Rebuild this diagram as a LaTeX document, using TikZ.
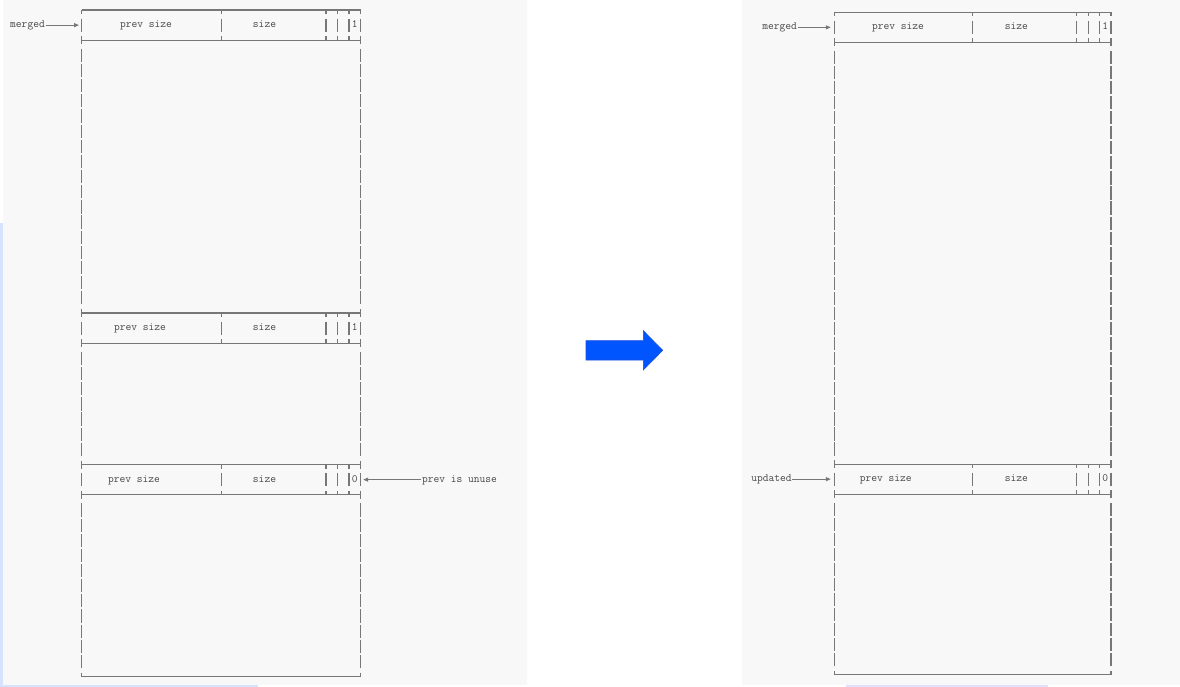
\documentclass[tikz,border=0pt]{standalone}
\usepackage{fontspec}
\usetikzlibrary{arrows.meta}

\definecolor{panelgray}{HTML}{F8F8F8}
\definecolor{edgeblue}{HTML}{D6E3FF}
\definecolor{edgelilac}{HTML}{E2E0FF}
\definecolor{inkline}{HTML}{777777}
\definecolor{inktext}{HTML}{474747}
\definecolor{bigblue}{HTML}{0055FF}
\definecolor{bigblueedge}{HTML}{1C4FD8}

% Divider inside a two-row header: tick, one bar row, tick.
% #1 = x, #2 = top y, #3 = row height
\newcommand{\hdrdivider}[3]{%
  \draw[rule] (#1,#2) -- (#1,{#2+4});
  \draw[rule] (#1,{#2+#3-6.6}) -- (#1,{#2+#3+6.6});
  \draw[rule] (#1,{#2+2*#3-4}) -- (#1,{#2+2*#3});
}

% Outer side of a chunk column drawn as ASCII bars.
% #1 = x, #2 = top y, #3 = row height, #4 = bar runs a/b between junction rows,
% #5 = inner junction rows, #6 = last row
\newcommand{\sidebars}[6]{%
  \foreach \a/\b in {#4}{%
    \pgfmathtruncatemacro\firstrow{\a+1}%
    \pgfmathtruncatemacro\lastrow{\b-1}%
    \foreach \k in {\firstrow,...,\lastrow}{%
      \draw[rule] (#1,{#2+\k*#3-6.6}) -- (#1,{#2+\k*#3+6.6});
    }%
  }%
  \foreach \r in {#5}{%
    \draw[rule] (#1,{#2+\r*#3-4}) -- (#1,{#2+\r*#3+4});
  }%
  \draw[rule] (#1,#2) -- (#1,{#2+4});
  \draw[rule] (#1,{#2+#6*#3-4}) -- (#1,{#2+#6*#3});
}

\begin{document}
\begin{tikzpicture}[x=1pt,y=-1pt,
  rule/.style={draw=inkline, line width=1.05pt},
  cell/.style={font=\ttfamily\fontsize{11.2}{12}\selectfont, text=inktext, inner sep=0pt, anchor=mid},
  lbl/.style={cell, inner sep=0.6pt},
  ptr/.style={rule, -{Triangle[length=5pt,width=4pt]}},
  bigarrow/.style={fill=bigblue, draw=bigblueedge, line width=0.6pt, line join=miter}]

\useasboundingbox (0,0) rectangle (1180,687);

% panel backgrounds
\fill[edgeblue] (0,223) rectangle (3,687);
\fill[edgeblue] (0,684.7) rectangle (258,687);
\fill[panelgray] (3,0) rectangle (527,684.7);
\fill[panelgray] (742,0) rectangle (1180,684.7);
\fill[edgelilac] (846,685) rectangle (1048,687);

% ---------------- left: before merge ----------------
% horizontal rules (junction rows 0,2,20,22,30,32,44; h = 15.15)
\foreach \r in {0,2,20,22,30,32,44}{
  \draw[rule] (81.7,{10+\r*15.15}) -- (360.5,{10+\r*15.15});
}
\sidebars{81.7}{10}{15.15}{0/2,2/20,20/22,22/30,30/32,32/44}{2,20,22,30,32}{44}
\sidebars{360.5}{10}{15.15}{0/2,2/20,20/22,22/30,30/32,32/44}{2,20,22,30,32}{44}
\foreach \t in {0,20,30}{
  \foreach \xd in {221.4,326,337.7,349}{
    \hdrdivider{\xd}{10+\t*15.15}{15.15}
  }
}

\node[cell] (lApsz) at (146,25.6) {prev size};
\node[cell] (lAsz)  at (264.5,25.6) {size};
\node[cell] (lAbit) at (354.8,25.6) {1};
\node[cell] (lBpsz) at (140,328.6) {prev size};
\node[cell] (lBsz)  at (264.5,328.6) {size};
\node[cell] (lBbit) at (354.8,328.6) {1};
\node[cell] (lCpsz) at (134,480.1) {prev size};
\node[cell] (lCsz)  at (264.5,480.1) {size};
\node[cell] (lCbit) at (354.8,480.1) {0};

\node[lbl, anchor=mid west] (lmerged) at (9.4,25.6) {merged};
\coordinate (lmergedtip) at (79,25.15);
\draw[ptr] (lmerged.east |- lmergedtip) -- (lmergedtip);

\node[lbl, anchor=mid west] (lunuse) at (421.2,480.1) {prev is unuse};
\coordinate (lunusetip) at (363.2,479.65);
\draw[ptr] (lunuse.west |- lunusetip) -- (lunusetip);

% ---------------- transition arrow ----------------
\draw[bigarrow] (586,340.7) -- (643.3,340.7) -- (643.3,330.7) -- (662.7,350.3)
  -- (643.3,370) -- (643.3,360) -- (586,360) -- cycle;

% ---------------- right: after merge ----------------
\foreach \r in {0,2,30,32,44}{
  \draw[rule] (834.3,{12.3+\r*15.06}) -- (1111,{12.3+\r*15.06});
}
\sidebars{834.3}{12.3}{15.06}{0/2,2/30,30/32,32/44}{2,30,32}{44}
\sidebars{1111}{12.3}{15.06}{0/2,2/30,30/32,32/44}{2,30,32}{44}
\foreach \t in {0,30}{
  \foreach \xd in {972.3,1076.7,1088.3,1099.3}{
    \hdrdivider{\xd}{12.3+\t*15.06}{15.06}
  }
}

\node[cell] (rApsz) at (898,27.8) {prev size};
\node[cell] (rAsz)  at (1016.3,27.8) {size};
\node[cell] (rAbit) at (1105.2,27.8) {1};
\node[cell] (rBpsz) at (885.7,479.6) {prev size};
\node[cell] (rBsz)  at (1016.3,479.6) {size};
\node[cell] (rBbit) at (1105.2,479.6) {0};

\node[lbl, anchor=mid west] (rmerged) at (761.5,27.8) {merged};
\coordinate (rmergedtip) at (830.8,27.36);
\draw[ptr] (rmerged.east |- rmergedtip) -- (rmergedtip);

\node[lbl, anchor=mid west] (rupdated) at (750.5,479.6) {updated};
\coordinate (rupdatedtip) at (830.8,479.16);
\draw[ptr] (rupdated.east |- rupdatedtip) -- (rupdatedtip);

\end{tikzpicture}
\end{document}
